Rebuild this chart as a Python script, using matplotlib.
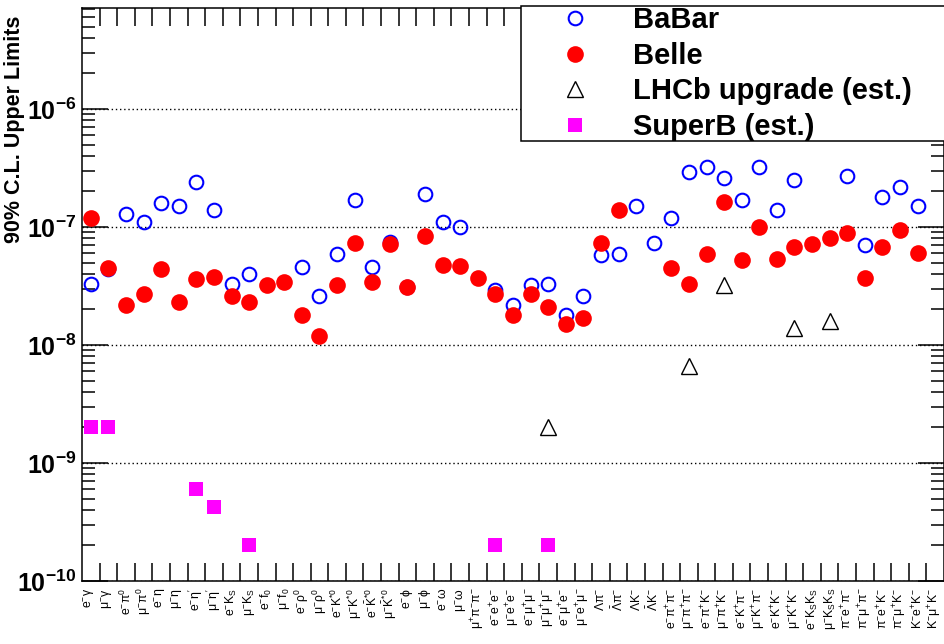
import numpy as np
import matplotlib
matplotlib.use('Agg')
import matplotlib.pyplot as plt
from matplotlib.ticker import FixedLocator, LogLocator, NullFormatter

plt.rcParams['font.family'] = ['Liberation Sans', 'DejaVu Sans']
plt.rcParams['mathtext.fontset'] = 'custom'
plt.rcParams['mathtext.rm'] = 'Liberation Sans'
plt.rcParams['mathtext.it'] = 'Liberation Sans:italic'
plt.rcParams['mathtext.bf'] = 'Liberation Sans:bold'
plt.rcParams['mathtext.default'] = 'regular'

nan = np.nan

# tau LFV decay modes, one bin each
modes = [
    r'$e^{-}\gamma$', r'$\mu^{-}\gamma$',
    r'$e^{-}\pi^{0}$', r'$\mu^{-}\pi^{0}$',
    r'$e^{-}\eta$', r'$\mu^{-}\eta$',
    r"$e^{-}\eta'$", r"$\mu^{-}\eta'$",
    r'$e^{-}K_{S}$', r'$\mu^{-}K_{S}$',
    r'$e^{-}f_{0}$', r'$\mu^{-}f_{0}$',
    r'$e^{-}\rho^{0}$', r'$\mu^{-}\rho^{0}$',
    r'$e^{-}K^{*0}$', r'$\mu^{-}K^{*0}$',
    r'$e^{-}\bar{K}^{*0}$', r'$\mu^{-}\bar{K}^{*0}$',
    r'$e^{-}\phi$', r'$\mu^{-}\phi$',
    r'$e^{-}\omega$', r'$\mu^{-}\omega$',
    r'$\mu^{+}\pi^{-}\pi^{-}$',
    r'$e^{-}e^{+}e^{-}$', r'$\mu^{-}e^{+}e^{-}$',
    r'$e^{-}\mu^{+}\mu^{-}$', r'$\mu^{-}\mu^{+}\mu^{-}$',
    r'$e^{-}\mu^{+}e^{-}$', r'$\mu^{-}e^{+}\mu^{-}$',
    r'$\Lambda\pi^{-}$', r'$\bar{\Lambda}\pi^{-}$',
    r'$\Lambda K^{-}$', r'$\bar{\Lambda}K^{-}$',
    r'$e^{-}\pi^{+}\pi^{-}$', r'$\mu^{-}\pi^{+}\pi^{-}$',
    r'$e^{-}\pi^{+}K^{-}$', r'$\mu^{-}\pi^{+}K^{-}$',
    r'$e^{-}K^{+}\pi^{-}$', r'$\mu^{-}K^{+}\pi^{-}$',
    r'$e^{-}K^{+}K^{-}$', r'$\mu^{-}K^{+}K^{-}$',
    r'$e^{-}K_{S}K_{S}$', r'$\mu^{-}K_{S}K_{S}$',
    r'$\pi^{-}e^{+}\pi^{-}$', r'$\pi^{-}\mu^{+}\pi^{-}$',
    r'$\pi^{-}e^{+}K^{-}$', r'$\pi^{-}\mu^{+}K^{-}$',
    r'$K^{-}e^{+}K^{-}$', r'$K^{-}\mu^{+}K^{-}$',
]

babar = [3.3e-8, 4.4e-8, 1.3e-7, 1.1e-7, 1.6e-7, 1.5e-7, 2.4e-7, 1.4e-7,
         3.3e-8, 4.0e-8, nan, nan, 4.6e-8, 2.6e-8, 5.9e-8, 1.7e-7,
         4.6e-8, 7.5e-8, 3.1e-8, 1.9e-7, 1.1e-7, 1.0e-7, nan,
         2.9e-8, 2.2e-8, 3.2e-8, 3.3e-8, 1.8e-8, 2.6e-8,
         5.8e-8, 5.9e-8, 1.5e-7, 7.3e-8, 1.2e-7, 2.9e-7,
         3.2e-7, 2.6e-7, 1.7e-7, 3.2e-7, 1.4e-7, 2.5e-7, nan, nan,
         2.7e-7, 7.1e-8, 1.8e-7, 2.2e-7, 1.5e-7, nan]

belle = [1.2e-7, 4.5e-8, 2.2e-8, 2.7e-8, 4.4e-8, 2.3e-8, 3.6e-8, 3.8e-8,
         2.6e-8, 2.3e-8, 3.2e-8, 3.4e-8, 1.8e-8, 1.2e-8, 3.2e-8, 7.3e-8,
         3.4e-8, 7.2e-8, 3.1e-8, 8.4e-8, 4.8e-8, 4.7e-8, 3.7e-8,
         2.7e-8, 1.8e-8, 2.7e-8, 2.1e-8, 1.5e-8, 1.7e-8,
         7.3e-8, 1.4e-7, nan, nan, 4.5e-8, 3.3e-8,
         5.9e-8, 1.64e-7, 5.3e-8, 1.0e-7, 5.4e-8, 6.8e-8, 7.2e-8, 8.0e-8,
         8.9e-8, 3.7e-8, 6.8e-8, 9.4e-8, 6.0e-8, nan]

lhcb = [nan] * 26 + [2.0e-9] + [nan] * 7 + [6.6e-9, nan, 3.2e-8, nan, nan,
        nan, 1.4e-8, nan, 1.6e-8] + [nan] * 6

superb = [2.0e-9, 2.0e-9, nan, nan, nan, nan, 6.0e-10, 4.2e-10, nan, 2.0e-10] \
    + [nan] * 13 + [2.0e-10, nan, nan, 2.0e-10] + [nan] * 22

x = np.arange(len(modes)) + 0.5

fig = plt.figure(figsize=(9.44, 6.44), dpi=100)
W, H = 944.0, 644.0
ax = fig.add_axes([82 / W, (H - 581) / H, 862 / W, 573 / H])

ax.plot(x, babar, 'o', ls='none', mfc='none', mec='blue', mew=1.5, ms=9.8,
        label='BaBar')
ax.plot(x, belle, 'o', ls='none', mfc='red', mec='red', mew=0, ms=12,
        label='Belle')
ax.plot(x, lhcb, '^', ls='none', mfc='none', mec='black', mew=1.0, ms=11.5,
        label='LHCb upgrade (est.)')
ax.plot(x, superb, 's', ls='none', mfc='magenta', mec='magenta', mew=0,
        ms=10, label='SuperB (est.)')

ax.set_yscale('log')
ax.set_ylim(1e-10, 10 ** -5.144)
ax.set_xlim(0, len(modes))

# y axis: bold decade labels, minor ticks 2..9
decades = [1e-10, 1e-9, 1e-8, 1e-7, 1e-6]
ax.yaxis.set_major_locator(FixedLocator(decades))
ax.set_yticklabels([r'$\mathbf{10^{%d}}$' % int(np.log10(d)) for d in decades],
                   fontsize=18)
ax.yaxis.set_minor_locator(LogLocator(base=10, subs=np.arange(2, 10)))
ax.yaxis.set_minor_formatter(NullFormatter())
ax.tick_params(axis='y', which='major', direction='in', length=18.5,
               width=1.1, left=True, right=True, pad=4)
ax.tick_params(axis='y', which='minor', direction='in', length=9.3,
               width=1.1, left=True, right=True)

# x axis: labels at bin centres, ticks at bin edges
ax.set_xticks(x)
ax.set_xticklabels(modes, rotation=90, fontsize=8.8)
ax.xaxis.set_minor_locator(FixedLocator(np.arange(1, len(modes))))
ax.tick_params(axis='x', which='major', length=0, pad=5)
ax.tick_params(axis='x', which='minor', direction='in', length=13,
               width=1.1, top=True, bottom=True)

ax.grid(True, axis='y', which='major', color='black', lw=1.0,
        linestyle=(0, (1, 2)))
for sp in ax.spines.values():
    sp.set_linewidth(1.1)

ax.set_ylabel('90% C.L. Upper Limits', fontsize=15.5, fontweight='bold')
ax.yaxis.set_label_coords(-0.066, 0.789)

leg = fig.legend(loc='lower left', mode='expand', numpoints=1,
                 bbox_to_anchor=(521 / W, (H - 141) / H, 430 / W, 0.2),
                 borderaxespad=0, borderpad=0.0, labelspacing=0.26,
                 handlelength=3.7, handletextpad=0.15, frameon=True,
                 fancybox=False, framealpha=1, edgecolor='black',
                 prop={'size': 21, 'weight': 'bold'})
leg.get_frame().set_linewidth(1.1)

fig.savefig('out.png', dpi=100)
